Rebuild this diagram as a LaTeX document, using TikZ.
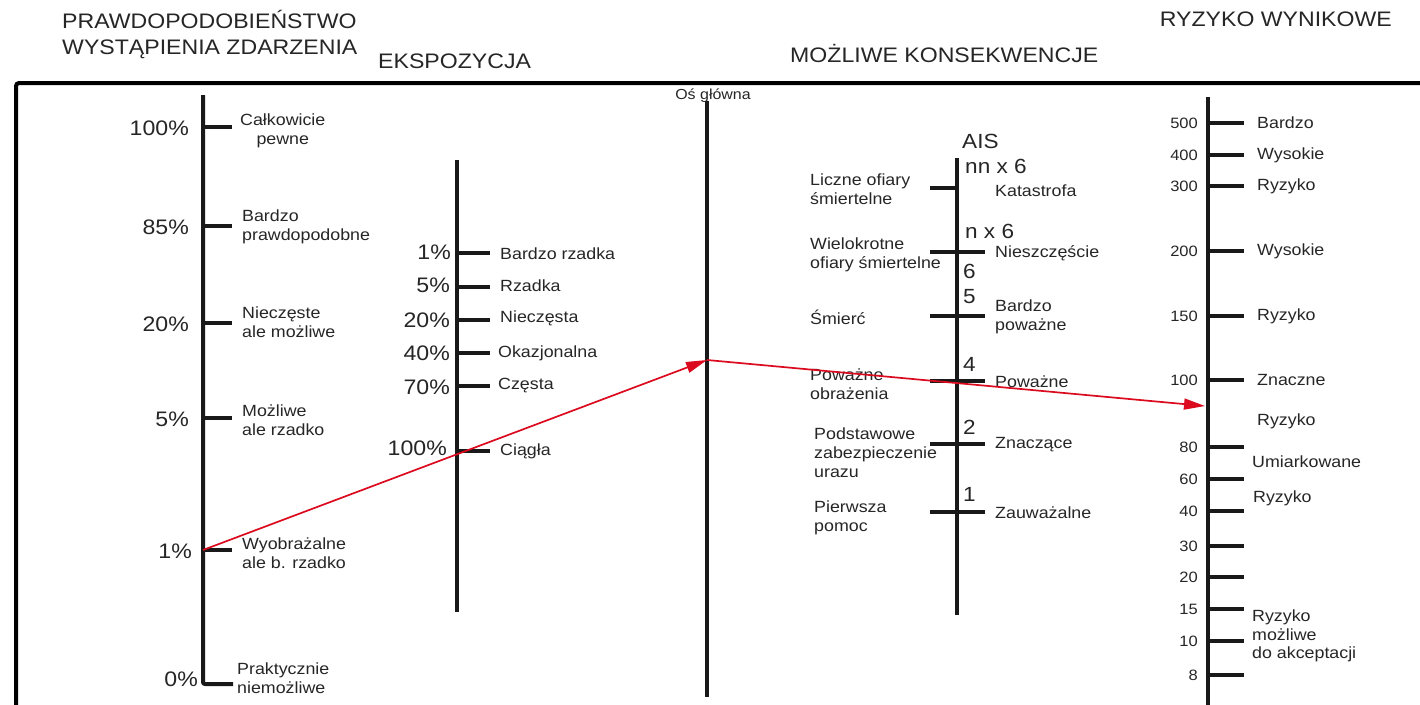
\documentclass[tikz,border=0pt]{standalone}
\usepackage{fontspec}
\setmainfont[FakeStretch=1.1]{Liberation Sans}
\usetikzlibrary{arrows.meta}
\definecolor{arrred}{RGB}{220,10,30}
\begin{document}
\begin{tikzpicture}[x=1pt,y=-1pt,
  axisln/.style={line width=4pt, draw=black!90},
  tk/.style={line width=3.5pt, draw=black!90},
  hdr/.style={font=\fontsize{21}{26}\selectfont, anchor=base west, inner sep=0pt, text=black!85},
  pct/.style={font=\fontsize{21}{24}\selectfont, anchor=east, inner sep=0pt, text=black!85},
  lbl/.style={font=\fontsize{16.2}{18.8}\selectfont, anchor=west, inner sep=0pt, align=left, text=black!85},
  num/.style={font=\fontsize{15}{18}\selectfont, anchor=east, inner sep=0pt, text=black!85},
  ais/.style={font=\fontsize{20.5}{22}\selectfont, anchor=west, inner sep=0pt, text=black!85},
  redarrow/.style={draw=arrred, line width=1.7pt, -{Triangle[length=21pt,width=11pt]}}]
\useasboundingbox (0,0) rectangle (1420,704);
\fill[white] (0,0) rectangle (1420,704);
% frame
\draw[line width=4pt, rounded corners=3pt] (16,706) -- (16,83) -- (1422,83);
% headers
\node[hdr] (h1a) at (62,28) {PRAWDOPODOBIEŃSTWO};
\node[hdr] (h1b) at (62,54) {WYSTĄPIENIA ZDARZENIA};
\node[hdr] (h2) at (378,68) {EKSPOZYCJA};
\node[hdr] (h3) at (790,62) {MOŻLIWE KONSEKWENCJE};
\node[hdr, anchor=base east] (h4) at (1392,27) {RYZYKO WYNIKOWE};
% ---------- axis 1: probability
\draw[axisln, rounded corners=2pt] (203,95) -- (203,684) -- (233,684);
\foreach \y in {127,226,323,418,550} \draw[tk] (203,\y) -- (232,\y);
\node[pct] (p100) at (189,128) {100\%};
\node[pct] (p85) at (189,227) {85\%};
\node[pct] (p20) at (189,324) {20\%};
\node[pct] (p5) at (189,419) {5\%};
\node[pct] (p1) at (192,551) {1\%};
\node[pct] (p0) at (198,679) {0\%};
\node[lbl, align=center] (l100) at (240,131) {Całkowicie\\pewne};
\node[lbl] (l85) at (242,227) {Bardzo\\prawdopodobne};
\node[lbl] (l20) at (242,322) {Nieczęste\\ale możliwe};
\node[lbl] (l5) at (242,420) {Możliwe\\ale rzadko};
\node[lbl] (l1) at (242,553) {Wyobrażalne\\ale b. rzadko};
\node[lbl] (l0) at (237,678) {Praktycznie\\niemożliwe};
% ---------- axis 2: exposure
\draw[axisln] (457,160) -- (457,612);
\foreach \y in {253,287,320,353,386,451} \draw[tk] (457,\y) -- (490,\y);
\node[pct] (e1) at (451,252) {1\%};
\node[pct] (e5) at (450,285) {5\%};
\node[pct] (e20) at (450,320) {20\%};
\node[pct] (e40) at (450,353) {40\%};
\node[pct] (e70) at (450,387) {70\%};
\node[pct] (e100) at (447,448) {100\%};
\node[lbl] (le1) at (500,254) {Bardzo rzadka};
\node[lbl] (le5) at (500,286) {Rzadka};
\node[lbl] (le20) at (500,318) {Nieczęsta};
\node[lbl] (le40) at (498,353) {Okazjonalna};
\node[lbl] (le70) at (498,386) {Częsta};
\node[lbl] (le100) at (500,451) {Ciągła};
% ---------- axis 3: main axis
\draw[axisln] (707,101) -- (707,697);
\node[font=\fontsize{14.5}{16}\selectfont, inner sep=0pt, text=black!85] (os) at (713,96) {Oś główna};
% ---------- axis 4: AIS
\draw[axisln] (957,158) -- (957,615);
\draw[tk] (930,188) -- (957,188);
\foreach \y in {252,316,381,444,512} \draw[tk] (930,\y) -- (985,\y);
\node[ais] (ais) at (962,141) {AIS};
\node[ais] (nn) at (965,166) {nn x 6};
\node[ais] (n6) at (965,231) {n x 6};
\node[ais] (a6) at (963,271) {6};
\node[ais] (a5) at (963,297) {5};
\node[ais] (a4) at (963,364) {4};
\node[ais] (a2) at (963,427) {2};
\node[ais] (a1) at (963,494) {1};
\node[lbl] (r1) at (995,191) {Katastrofa};
\node[lbl] (r2) at (995,253) {Nieszczęście};
\node[lbl] (r3) at (995,317) {Bardzo\\poważne};
\node[lbl] (r4) at (995,382) {Poważne};
\node[lbl] (r5) at (995,445) {Znaczące};
\node[lbl] (r6) at (995,513) {Zauważalne};
\node[lbl] (c1) at (810,189) {Liczne ofiary\\śmiertelne};
\node[lbl] (c2) at (810,255) {Wielokrotne\\ofiary śmiertelne};
\node[lbl] (c3) at (810,317) {Śmierć};
\node[lbl] (c4) at (810,384) {Poważne\\obrażenia};
\node[lbl] (c5) at (814,453) {Podstawowe\\zabezpieczenie\\urazu};
\node[lbl] (c6) at (814,518) {Pierwsza\\pomoc};
% ---------- axis 5: resulting risk
\draw[axisln] (1208,97) -- (1208,706);
\foreach \y/\v in {123/500,155/400,186/300,251/200,316/150,380/100,447/80,479/60,511/40,546/30,577/20,609/15,641/10,675/8} {
  \draw[tk] (1208,\y) -- (1244,\y);
  \node[num] (n\v) at (1198,\y) {\v};
}
\node[lbl] (w1) at (1257,123) {Bardzo};
\node[lbl] (w2) at (1257,155) {Wysokie};
\node[lbl] (w3) at (1257,186) {Ryzyko};
\node[lbl] (w4) at (1257,251) {Wysokie};
\node[lbl] (w5) at (1257,316) {Ryzyko};
\node[lbl] (w6) at (1257,380) {Znaczne};
\node[lbl] (w7) at (1257,421) {Ryzyko};
\node[lbl] (w8) at (1252,462) {Umiarkowane};
\node[lbl] (w9) at (1253,498) {Ryzyko};
\node[lbl] (w10) at (1252,636) {Ryzyko\\możliwe\\do akceptacji};
% ---------- red path
\coordinate (q1) at (203,550);
\coordinate (q2) at (707,360);
\coordinate (q3) at (1205,406);
\draw[redarrow] (q1) -- (q2);
\draw[redarrow] (q2) -- (q3);
\end{tikzpicture}
\end{document}
